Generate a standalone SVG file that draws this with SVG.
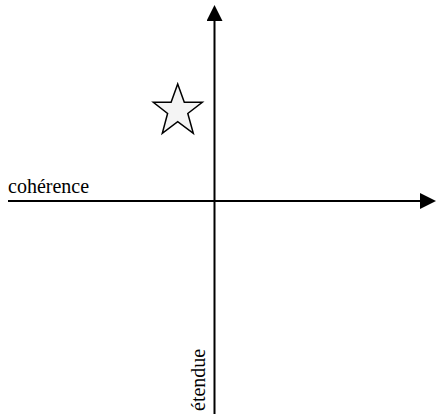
<svg xmlns="http://www.w3.org/2000/svg" width="436" height="414" viewBox="0 0 436 414">
<style>
.axis{stroke:#000;stroke-width:2;fill:none}
.lbl{font-family:'Times New Roman','Liberation Serif','DejaVu Serif','Noto Serif',serif;font-size:20px;fill:#000}
</style>
<defs>
<marker id="arr" markerWidth="8" markerHeight="8" refX="1" refY="4" orient="auto" markerUnits="strokeWidth" viewBox="0 0 8 8">
<path d="M0,0 L8,4 L0,8 Z" fill="#000"/>
</marker>
</defs>
<rect width="436" height="414" fill="#fff"/>
<g id="connectors">
<line class="axis" x1="214.5" y1="414" x2="214.5" y2="19" marker-end="url(#arr)"/>
<line class="axis" x1="8" y1="201" x2="422" y2="201" marker-end="url(#arr)"/>
</g>
<g id="star">
<polygon points="177.7,84 184.3,102.3 202.3,102.3 187.8,113.5 193.3,133.3 177.7,121.6 162.3,133.3 167.6,113.5 153.3,102.3 171.1,102.3" fill="#f4f4f4" stroke="#000" stroke-width="1.5" stroke-linejoin="miter"/>
</g>
<g id="label-coherence">
<text class="lbl" x="8" y="193">cohérence</text>
</g>
<g id="label-etendue">
<text class="lbl" transform="translate(205,411) rotate(-90)">étendue</text>
</g>
</svg>
